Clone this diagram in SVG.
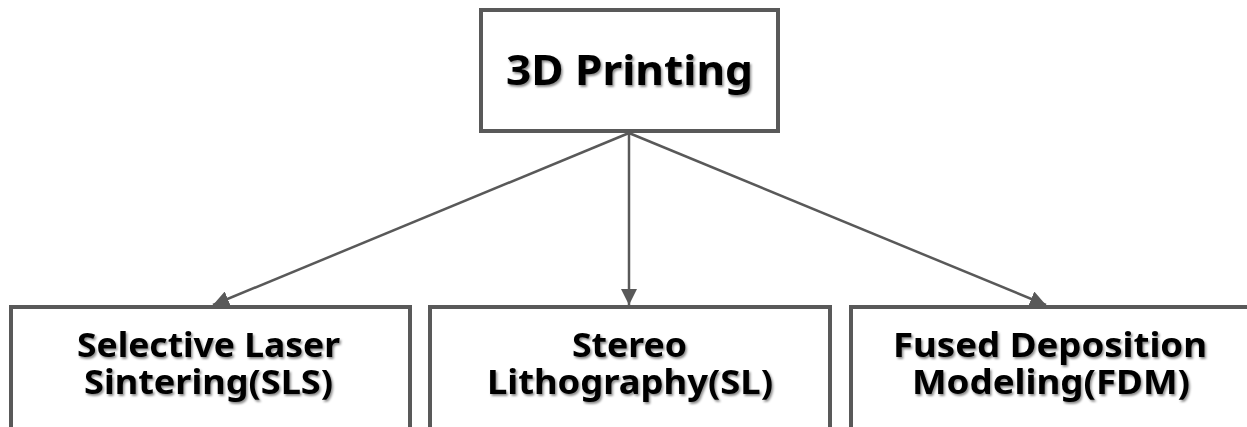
<svg xmlns="http://www.w3.org/2000/svg" width="1247" height="427" viewBox="0 0 1247 427">
  <defs>
    <marker id="arrow" markerUnits="userSpaceOnUse" markerWidth="18" markerHeight="16" refX="16" refY="8" orient="auto">
      <path d="M0,0 L16,8 L0,16 Z" fill="#595959"/>
    </marker>
    <filter id="shadow" x="-10%" y="-20%" width="120%" height="150%">
      <feDropShadow dx="1.5" dy="2" stdDeviation="1.2" flood-color="#000" flood-opacity="0.45"/>
    </filter>
  </defs>
  <style>
    .box { fill: #ffffff; stroke: #595959; stroke-width: 4; }
    .edge { stroke: #595959; stroke-width: 2.5; fill: none; }
    .lbl { font-family: "Noto Sans", "Open Sans", sans-serif; font-weight: bold; fill: #000; text-anchor: middle; filter: url(#shadow); }
    .top { font-size: 42px; }
    .sub { font-size: 34px; }
  </style>
  <rect width="1247" height="427" fill="#ffffff"/>
  <g id="connectors">
    <line class="edge" x1="629" y1="133" x2="213" y2="305" marker-end="url(#arrow)"/>
    <line class="edge" x1="629" y1="133" x2="629" y2="305" marker-end="url(#arrow)"/>
    <line class="edge" x1="629" y1="133" x2="1046" y2="305" marker-end="url(#arrow)"/>
  </g>
  <g id="node-3d-printing">
    <rect class="box" x="481" y="10" width="297" height="121"/>
    <text class="lbl top" x="629.5" y="85" textLength="247" lengthAdjust="spacingAndGlyphs">3D Printing</text>
  </g>
  <g id="node-sls">
    <rect class="box" x="11" y="307" width="399" height="125"/>
    <text class="lbl sub" x="208.5" y="357" textLength="263" lengthAdjust="spacingAndGlyphs">Selective Laser</text>
    <text class="lbl sub" x="208.5" y="394" textLength="249" lengthAdjust="spacingAndGlyphs">Sintering(SLS)</text>
  </g>
  <g id="node-sl">
    <rect class="box" x="430" y="307" width="400" height="125"/>
    <text class="lbl sub" x="629.5" y="357" textLength="115" lengthAdjust="spacingAndGlyphs">Stereo</text>
    <text class="lbl sub" x="630" y="394" textLength="286" lengthAdjust="spacingAndGlyphs">Lithography(SL)</text>
  </g>
  <g id="node-fdm">
    <rect class="box" x="851" y="307" width="420" height="125"/>
    <text class="lbl sub" x="1050" y="357" textLength="314" lengthAdjust="spacingAndGlyphs">Fused Deposition</text>
    <text class="lbl sub" x="1051" y="394" textLength="278" lengthAdjust="spacingAndGlyphs">Modeling(FDM)</text>
  </g>
</svg>
